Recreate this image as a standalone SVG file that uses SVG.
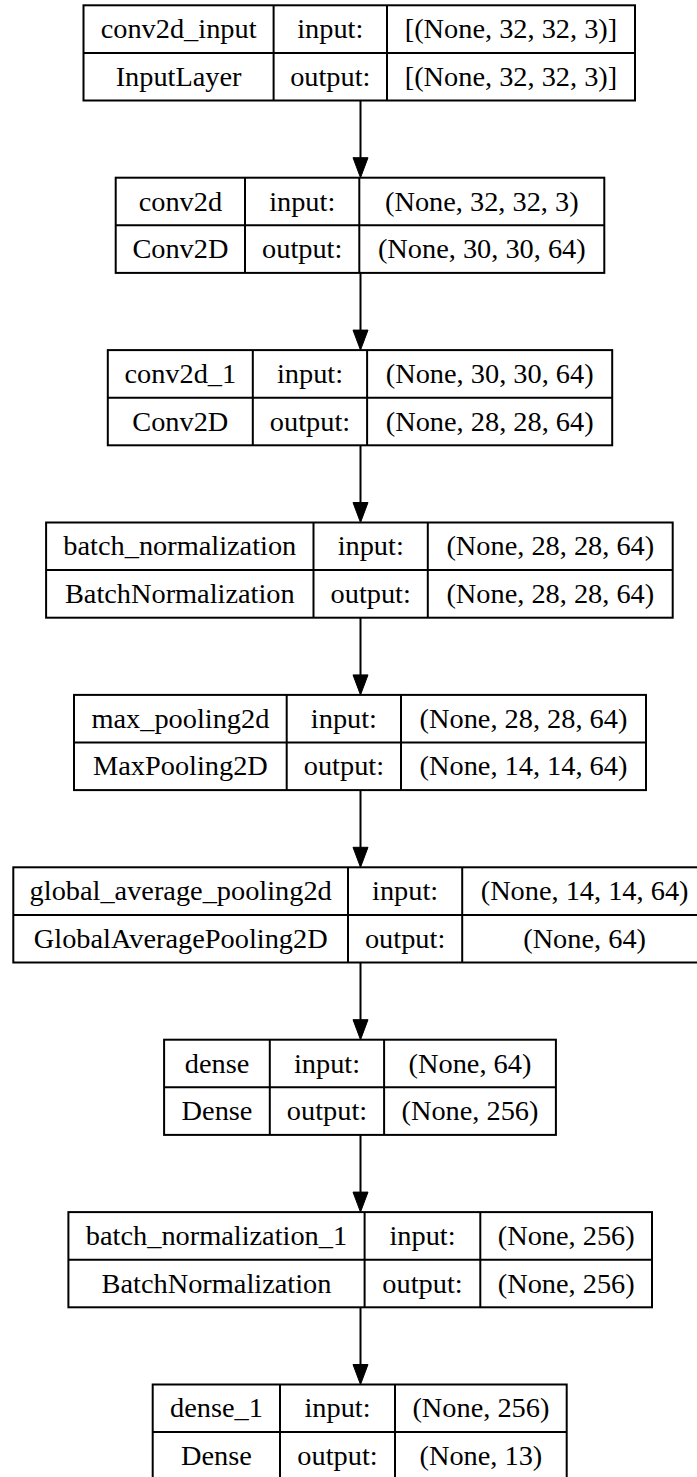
<svg xmlns="http://www.w3.org/2000/svg" width="697" height="1477" viewBox="0 0 697 1477">
<style>
.b{fill:none;stroke:#000;stroke-width:2}
.l{stroke:#000;stroke-width:2}
.t{font-family:"Liberation Serif","Times New Roman",serif;font-size:27px;fill:#000;text-anchor:middle}
.e{stroke:#000;stroke-width:2;fill:none}
.h{fill:#000;stroke:#000;stroke-width:1}
</style>
<rect x="0" y="0" width="697" height="1477" fill="#fff"/>
<g id="edges">
<line class="e" x1="360.5" y1="100.5" x2="360.5" y2="158"/><polygon class="h" points="353,157.7 368,157.7 360.5,177.7"/>
<line class="e" x1="360.5" y1="272.9" x2="360.5" y2="330.4"/><polygon class="h" points="353,330.1 368,330.1 360.5,350.1"/>
<line class="e" x1="360.5" y1="445.3" x2="360.5" y2="502.8"/><polygon class="h" points="353,502.5 368,502.5 360.5,522.5"/>
<line class="e" x1="360.5" y1="617.7" x2="360.5" y2="675.2"/><polygon class="h" points="353,674.9 368,674.9 360.5,694.9"/>
<line class="e" x1="360.5" y1="790.1" x2="360.5" y2="847.6"/><polygon class="h" points="353,847.3 368,847.3 360.5,867.3"/>
<line class="e" x1="360.5" y1="962.5" x2="360.5" y2="1020"/><polygon class="h" points="353,1019.7 368,1019.7 360.5,1039.7"/>
<line class="e" x1="360.5" y1="1134.9" x2="360.5" y2="1192.4"/><polygon class="h" points="353,1192.1 368,1192.1 360.5,1212.1"/>
<line class="e" x1="360.5" y1="1307.3" x2="360.5" y2="1364.8"/><polygon class="h" points="353,1364.5 368,1364.5 360.5,1384.5"/>
</g>
<g id="conv2d_input">
<rect class="b" x="83.5" y="5.3" width="551.5" height="95.2"/>
<line class="l" x1="83.5" y1="52.9" x2="635" y2="52.9"/>
<line class="l" x1="273.6" y1="5.3" x2="273.6" y2="100.5"/>
<line class="l" x1="387" y1="5.3" x2="387" y2="100.5"/>
<text class="t" transform="translate(178.6,38.1) scale(1.05,1)">conv2d_input</text>
<text class="t" transform="translate(178.6,85.7) scale(1.05,1)">InputLayer</text>
<text class="t" transform="translate(330.3,38.1) scale(1.05,1)">input:</text>
<text class="t" transform="translate(330.3,85.7) scale(1.05,1)">output:</text>
<text class="t" transform="translate(511,38.1) scale(1.05,1)">[(None, 32, 32, 3)]</text>
<text class="t" transform="translate(511,85.7) scale(1.05,1)">[(None, 32, 32, 3)]</text>
</g>
<g id="conv2d">
<rect class="b" x="115.7" y="177.7" width="488.6" height="95.2"/>
<line class="l" x1="115.7" y1="225.3" x2="604.3" y2="225.3"/>
<line class="l" x1="245" y1="177.7" x2="245" y2="272.9"/>
<line class="l" x1="359.3" y1="177.7" x2="359.3" y2="272.9"/>
<text class="t" transform="translate(180.4,210.5) scale(1.05,1)">conv2d</text>
<text class="t" transform="translate(180.4,258.1) scale(1.05,1)">Conv2D</text>
<text class="t" transform="translate(302.2,210.5) scale(1.05,1)">input:</text>
<text class="t" transform="translate(302.2,258.1) scale(1.05,1)">output:</text>
<text class="t" transform="translate(481.8,210.5) scale(1.05,1)">(None, 32, 32, 3)</text>
<text class="t" transform="translate(481.8,258.1) scale(1.05,1)">(None, 30, 30, 64)</text>
</g>
<g id="conv2d_1">
<rect class="b" x="107.8" y="350.1" width="504.4" height="95.2"/>
<line class="l" x1="107.8" y1="397.7" x2="612.2" y2="397.7"/>
<line class="l" x1="252.8" y1="350.1" x2="252.8" y2="445.3"/>
<line class="l" x1="367.1" y1="350.1" x2="367.1" y2="445.3"/>
<text class="t" transform="translate(180.3,382.9) scale(1.05,1)">conv2d_1</text>
<text class="t" transform="translate(180.3,430.5) scale(1.05,1)">Conv2D</text>
<text class="t" transform="translate(310,382.9) scale(1.05,1)">input:</text>
<text class="t" transform="translate(310,430.5) scale(1.05,1)">output:</text>
<text class="t" transform="translate(489.7,382.9) scale(1.05,1)">(None, 30, 30, 64)</text>
<text class="t" transform="translate(489.7,430.5) scale(1.05,1)">(None, 28, 28, 64)</text>
</g>
<g id="batch_normalization">
<rect class="b" x="46.1" y="522.5" width="626.6" height="95.2"/>
<line class="l" x1="46.1" y1="570.1" x2="672.7" y2="570.1"/>
<line class="l" x1="313.5" y1="522.5" x2="313.5" y2="617.7"/>
<line class="l" x1="427.8" y1="522.5" x2="427.8" y2="617.7"/>
<text class="t" transform="translate(179.8,555.3) scale(1.05,1)">batch_normalization</text>
<text class="t" transform="translate(179.8,602.9) scale(1.05,1)">BatchNormalization</text>
<text class="t" transform="translate(370.7,555.3) scale(1.05,1)">input:</text>
<text class="t" transform="translate(370.7,602.9) scale(1.05,1)">output:</text>
<text class="t" transform="translate(550.3,555.3) scale(1.05,1)">(None, 28, 28, 64)</text>
<text class="t" transform="translate(550.3,602.9) scale(1.05,1)">(None, 28, 28, 64)</text>
</g>
<g id="max_pooling2d">
<rect class="b" x="74" y="694.9" width="572" height="95.2"/>
<line class="l" x1="74" y1="742.5" x2="646" y2="742.5"/>
<line class="l" x1="286.7" y1="694.9" x2="286.7" y2="790.1"/>
<line class="l" x1="401" y1="694.9" x2="401" y2="790.1"/>
<text class="t" transform="translate(180.4,727.7) scale(1.05,1)">max_pooling2d</text>
<text class="t" transform="translate(180.4,775.3) scale(1.05,1)">MaxPooling2D</text>
<text class="t" transform="translate(343.9,727.7) scale(1.05,1)">input:</text>
<text class="t" transform="translate(343.9,775.3) scale(1.05,1)">output:</text>
<text class="t" transform="translate(523.5,727.7) scale(1.05,1)">(None, 28, 28, 64)</text>
<text class="t" transform="translate(523.5,775.3) scale(1.05,1)">(None, 14, 14, 64)</text>
</g>
<g id="global_average_pooling2d">
<rect class="b" x="13.3" y="867.3" width="693.7" height="95.2"/>
<line class="l" x1="13.3" y1="914.9" x2="707" y2="914.9"/>
<line class="l" x1="348" y1="867.3" x2="348" y2="962.5"/>
<line class="l" x1="462.2" y1="867.3" x2="462.2" y2="962.5"/>
<text class="t" transform="translate(180.7,900.1) scale(1.05,1)">global_average_pooling2d</text>
<text class="t" transform="translate(180.7,947.7) scale(1.05,1)">GlobalAveragePooling2D</text>
<text class="t" transform="translate(405.1,900.1) scale(1.05,1)">input:</text>
<text class="t" transform="translate(405.1,947.7) scale(1.05,1)">output:</text>
<text class="t" transform="translate(584.6,900.1) scale(1.05,1)">(None, 14, 14, 64)</text>
<text class="t" transform="translate(584.6,947.7) scale(1.05,1)">(None, 64)</text>
</g>
<g id="dense">
<rect class="b" x="164.1" y="1039.7" width="391.8" height="95.2"/>
<line class="l" x1="164.1" y1="1087.3" x2="555.9" y2="1087.3"/>
<line class="l" x1="269.8" y1="1039.7" x2="269.8" y2="1134.9"/>
<line class="l" x1="384.1" y1="1039.7" x2="384.1" y2="1134.9"/>
<text class="t" transform="translate(217,1072.5) scale(1.05,1)">dense</text>
<text class="t" transform="translate(217,1120.1) scale(1.05,1)">Dense</text>
<text class="t" transform="translate(327,1072.5) scale(1.05,1)">input:</text>
<text class="t" transform="translate(327,1120.1) scale(1.05,1)">output:</text>
<text class="t" transform="translate(470,1072.5) scale(1.05,1)">(None, 64)</text>
<text class="t" transform="translate(470,1120.1) scale(1.05,1)">(None, 256)</text>
</g>
<g id="batch_normalization_1">
<rect class="b" x="68.4" y="1212.1" width="583.6" height="95.2"/>
<line class="l" x1="68.4" y1="1259.7" x2="652" y2="1259.7"/>
<line class="l" x1="364.6" y1="1212.1" x2="364.6" y2="1307.3"/>
<line class="l" x1="480.3" y1="1212.1" x2="480.3" y2="1307.3"/>
<text class="t" transform="translate(216.5,1244.9) scale(1.05,1)">batch_normalization_1</text>
<text class="t" transform="translate(216.5,1292.5) scale(1.05,1)">BatchNormalization</text>
<text class="t" transform="translate(422.5,1244.9) scale(1.05,1)">input:</text>
<text class="t" transform="translate(422.5,1292.5) scale(1.05,1)">output:</text>
<text class="t" transform="translate(566.2,1244.9) scale(1.05,1)">(None, 256)</text>
<text class="t" transform="translate(566.2,1292.5) scale(1.05,1)">(None, 256)</text>
</g>
<g id="dense_1">
<rect class="b" x="152.7" y="1384.5" width="414" height="95.2"/>
<line class="l" x1="152.7" y1="1432.1" x2="566.7" y2="1432.1"/>
<line class="l" x1="280" y1="1384.5" x2="280" y2="1479.7"/>
<line class="l" x1="395" y1="1384.5" x2="395" y2="1479.7"/>
<text class="t" transform="translate(216.4,1417.3) scale(1.05,1)">dense_1</text>
<text class="t" transform="translate(216.4,1464.9) scale(1.05,1)">Dense</text>
<text class="t" transform="translate(337.5,1417.3) scale(1.05,1)">input:</text>
<text class="t" transform="translate(337.5,1464.9) scale(1.05,1)">output:</text>
<text class="t" transform="translate(480.9,1417.3) scale(1.05,1)">(None, 256)</text>
<text class="t" transform="translate(480.9,1464.9) scale(1.05,1)">(None, 13)</text>
</g>
</svg>
